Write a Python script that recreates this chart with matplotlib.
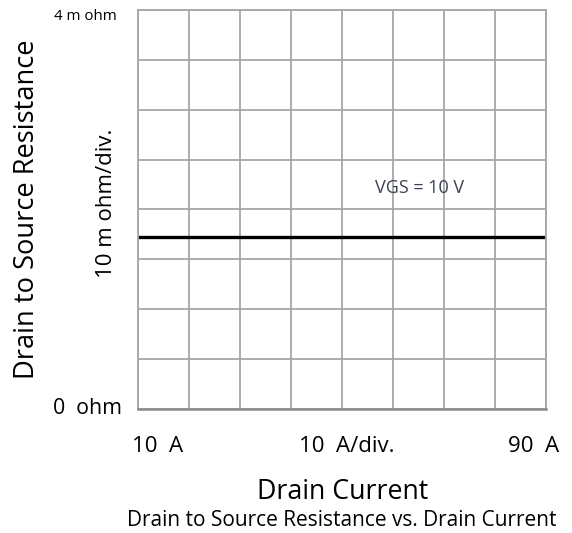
import matplotlib
matplotlib.use('Agg')
import matplotlib.pyplot as plt

plt.rcParams['font.family'] = ['Open Sans', 'DejaVu Sans']

# Data (x in A, y in m ohm, 10 m ohm/div)
drain_current = [10, 90]
rds_on = [34.4, 34.4]
x_ticks = [10, 20, 30, 40, 50, 60, 70, 80, 90]
y_ticks = [0, 10, 20, 30, 40, 50, 60, 70, 80]

W, H = 572, 533
fig = plt.figure(figsize=(W / 100, H / 100), dpi=100)
ax = fig.add_axes([138 / W, (H - 409) / H, (546 - 138) / W, (409 - 10) / H])

ax.set_xlim(10, 90)
ax.set_ylim(0, 80)
ax.set_xticks(x_ticks)
ax.set_yticks(y_ticks)
ax.grid(True, color='#a6a6a6', linewidth=1.3)
ax.tick_params(length=0, labelbottom=False, labelleft=False)
for s in ax.spines.values():
    s.set_color('#a6a6a6')
    s.set_linewidth(1.3)
ax.spines['bottom'].set_color('#8c8c8c')
ax.spines['bottom'].set_linewidth(1.8)

ax.plot(drain_current, rds_on, color='black', linewidth=2.4, solid_capstyle='butt')


def ftext(x, y, s, **kw):
    fig.text(x / W, 1 - y / H, s, **kw)


ftext(420, 188, 'VGS = 10 V', fontsize=13, color='#3a4250', ha='center', va='center')
ftext(117, 17, '4 m ohm', fontsize=10.8, ha='right', va='center')
ftext(122, 408, '0  ohm', fontsize=15.3, ha='right', va='center')
ftext(158, 447, '10  A', fontsize=16, ha='center', va='center')
ftext(347, 447, '10  A/div.', fontsize=16, ha='center', va='center')
ftext(534, 447, '90  A', fontsize=16, ha='center', va='center')
ftext(106, 203, '10 m ohm/div.', fontsize=16, rotation=90, ha='center', va='center')
ftext(27, 209, 'Drain to Source Resistance', fontsize=19.6, rotation=90, ha='center', va='center')
ftext(343, 492, 'Drain Current', fontsize=19.3, ha='center', va='center')
ftext(342, 521, 'Drain to Source Resistance vs. Drain Current', fontsize=15,
      ha='center', va='center')

fig.savefig('out.png', dpi=100)
